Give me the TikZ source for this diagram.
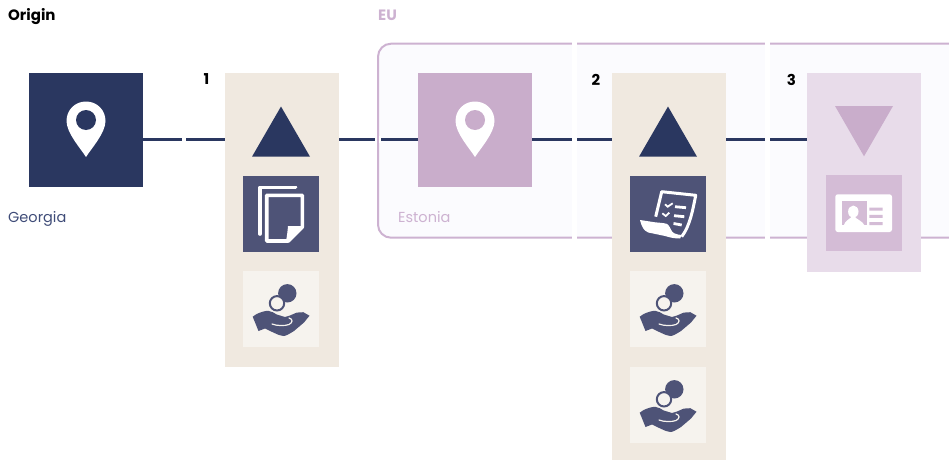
\documentclass[tikz,border=0pt]{standalone}
\usepackage{fontspec}
\setmainfont{Poppins}
\definecolor{navy}{HTML}{2A3760}
\definecolor{slate}{HTML}{4E5377}
\definecolor{mauve}{HTML}{C9ADCB}
\definecolor{mauveline}{HTML}{CDB2D1}
\definecolor{mauvebox}{HTML}{D4BCD6}
\definecolor{mauvepanel}{HTML}{E8DCEA}
\definecolor{sand}{HTML}{F0E9E0}
\definecolor{sandbox}{HTML}{F6F3EE}
\definecolor{eufill}{HTML}{FBFBFE}
\definecolor{placeblue}{HTML}{3F4C78}
\tikzset{
	square/.style={minimum width=114pt,minimum height=114pt,inner sep=0pt},
	panel/.style={minimum width=114pt,anchor=north,inner sep=0pt},
	iconbox/.style={minimum width=76pt,minimum height=76pt,inner sep=0pt},
	title/.style={anchor=base west,inner sep=0pt,font=\fontsize{15}{17}\selectfont\bfseries},
	place/.style={anchor=base west,inner sep=0pt,font=\fontsize{14.5}{17}\selectfont},
	number/.style={inner sep=0pt,font=\fontsize{15}{17}\selectfont\bfseries},
	link/.style={draw=navy,line width=3pt},
	pin/.pic={
		\fill[white] (0,27) .. controls (-5,19) and (-19.5,3) .. (-19.5,-9)
			.. controls (-19.5,-20) and (-11,-28.5) .. (0,-28.5)
			.. controls (11,-28.5) and (19.5,-20) .. (19.5,-9)
			.. controls (19.5,3) and (5,19) .. (0,27) -- cycle;
	},
	sheets/.pic={
		\draw[white,line width=3.6pt,line cap=round,line join=round]
			(-21,20)--(-21,-26.7)--(14.5,-26.7);
		\draw[white,line width=3.6pt,line join=round]
			(-14.3,-18.7)--(21.3,-18.7)--(21.3,13)--(7.3,27)--(-14.3,27)--cycle;
		\fill[white] (21.3,12)--(7,12) .. controls (6.5,18) and (6,22) .. (5,27)--(8,27)--cycle;
	},
	coinhand/.pic={
		\fill[slate] (6.3,-15.7) circle (9.2);
		\draw[slate,fill=sandbox,line width=2pt] (-4,-5.7) circle (7.2);
		\fill[slate] (-28.3,7.7)--(-24.3,5) .. controls (-20,3) and (-16,1.8) .. (-12.7,1.8)
			.. controls (-9,1.8) and (-7,4.5) .. (-4.3,5.5)--(4,8)--(9,6.5)--(15.7,3.6)--(22.3,3.2)
			--(28.5,6.7)--(23,13.5)--(13,22) .. controls (8,25) and (5,27) .. (2.3,27)
			.. controls (-1,27) and (-4,25) .. (-7.7,23.5)--(-16,19.5)--(-22.5,22)--cycle;
		\draw[sandbox,line width=1.2pt,line cap=round] (-9,15) .. controls (-4,17) and (4,17) .. (8,15.5)
			.. controls (12,13.5) and (12,10) .. (8,9);
	},
	checklist/.pic={
		\draw[white,line width=3pt,line join=round] (-12.3,2.7)--(-6.3,-22.3)--(27.7,-18.7)
			.. controls (25,-5) and (22,12) .. (13.7,22.7);
		\fill[white] (-28,6)--(-13,8.3) .. controls (-6,9) and (-1,9) .. (0.3,11)
			.. controls (3,14) and (3,18) .. (6.3,19.3) .. controls (9,20.5) and (11,21) .. (14,21)--(12,24.5)
			.. controls (6,24.5) and (2,23.5) .. (-3,22)--(-19.7,18.5) .. controls (-24,16.5) and (-26,14) .. (-28,6)--cycle;
		\draw[white,line width=1.8pt] (-3,-9.7)--(-0.3,-7.3)--(4.7,-10.7)
			(-5.7,-0.7)--(-2.3,2)--(1.3,-1.3);
		\draw[white,line width=2.8pt] (7,-7.3)--(18,-6.3) (6,1.7)--(16.3,2.7) (5.5,9.5)--(13.7,11);
	},
	idcard/.pic={
		\fill[white,rounded corners=2.5pt] (-28.7,-18.7) rectangle (28,19);
		\fill[mauvebox] (-22.3,-12) rectangle (2.7,12);
		\fill[white] (-10.7,-1.3) ellipse (5.2 and 6.2);
		\fill[white] (-20,12) .. controls (-19,7.5) and (-15,7) .. (-12.5,4)--(-9,4)
			.. controls (-6.5,7) and (-2,7.5) .. (1,13)--cycle;
		\fill[mauvebox] (5.3,-5.5) rectangle (18.7,-2.5) (5.3,1.8) rectangle (18.7,4.8) (5.3,9.2) rectangle (18.7,12.2);
	},
}
\begin{document}
\begin{tikzpicture}[x=1pt,y=-1pt]
	\useasboundingbox (0,0) rectangle (949,460);
	% EU region, runs off the right edge
	\filldraw[draw=mauveline,fill=eufill,line width=2pt,rounded corners=13pt]
		(960,43.7)--(378,43.7)--(378,237.7)--(960,237.7);
	% blocks
	\node[square,fill=navy] (origin) at (86,130) {};
	\node[square,fill=mauve] (estonia) at (475,130) {};
	\node[panel,fill=sand,minimum height=294pt] (panelone) at (282,73) {};
	\node[panel,fill=sand,minimum height=387pt] (paneltwo) at (669,73) {};
	\node[panel,fill=mauvepanel,minimum height=199pt] (panelthree) at (864,73) {};
	% route
	\draw[link] (origin.east |- 0,139.3) -- (panelone.west |- 0,139.3);
	\draw[link] (panelone.east |- 0,139.3) -- (estonia.west |- 0,139.3);
	\draw[link] (estonia.east |- 0,139.3) -- (paneltwo.west |- 0,139.3);
	\draw[link] (paneltwo.east |- 0,139.3) -- (panelthree.west |- 0,139.3);
	% cuts
	\fill[white] (182,136) rectangle (186,143);
	\fill[white] (375,136) rectangle (381,143);
	\fill[white] (572,40) rectangle (577,241);
	\fill[white] (764.5,40) rectangle (769.5,241);
	\fill[mauveline] (377,136) rectangle (379,143);
	% triangles
	\fill[navy] (281,106.5)--(252,156.7)--(310,156.7)--cycle;
	\fill[navy] (668,106.5)--(639,156.7)--(697,156.7)--cycle;
	\fill[mauve] (835,106)--(893,106)--(864,156.3)--cycle;
	% icon boxes
	\node[iconbox,fill=slate] (docsone) at (281,214) {};
	\node[iconbox,fill=sandbox] (payone) at (281,309) {};
	\node[iconbox,fill=slate] (docstwo) at (668,214) {};
	\node[iconbox,fill=sandbox] (paytwo) at (668,309) {};
	\node[iconbox,fill=sandbox] (paythree) at (668,405) {};
	\node[iconbox,fill=mauvebox] (permit) at (864,213) {};
	\pic at (origin) {pin};
	\fill[navy] (86,120) circle (10);
	\pic at (estonia) {pin};
	\fill[mauve] (475,120) circle (10);
	\pic at (docsone) {sheets};
	\pic at (payone) {coinhand};
	\pic at (docstwo) {checklist};
	\pic at (paytwo) {coinhand};
	\pic at (paythree) {coinhand};
	\pic at (permit) {idcard};
	% labels
	\node[title,text=black] (origintitle) at (8,20.5) {Origin};
	\node[title,text=mauveline] (eutitle) at (378,20.5) {EU};
	\node[place,text=placeblue] (georgia) at (8,222) {Georgia};
	\node[place,text=mauveline] (estonialabel) at (398,222) {Estonia};
	\node[number] (numone) at (206.5,79.5) {1};
	\node[number] (numtwo) at (596,79.5) {2};
	\node[number] (numthree) at (791.5,79.5) {3};
\end{tikzpicture}
\end{document}
